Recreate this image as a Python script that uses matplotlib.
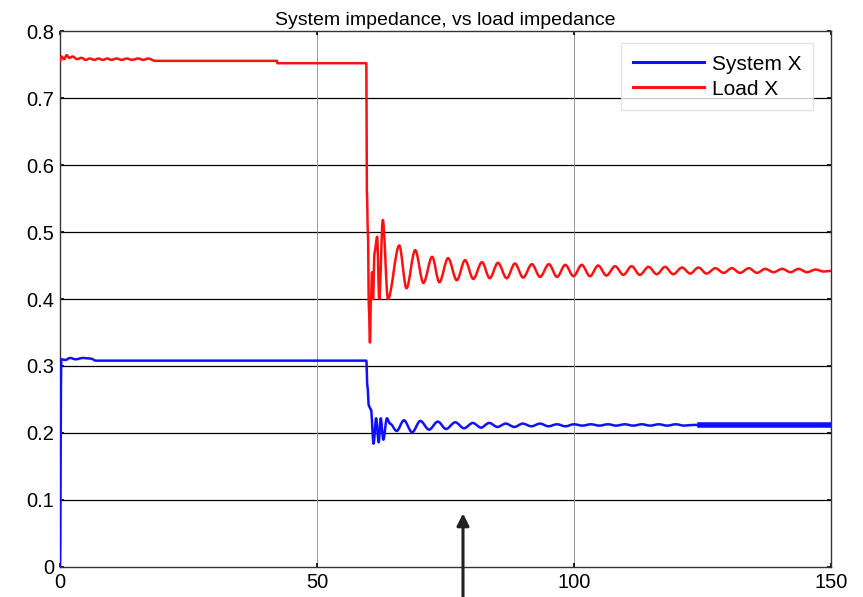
import matplotlib
matplotlib.use('Agg')
import matplotlib.pyplot as plt
from matplotlib.path import Path
from matplotlib.patches import PathPatch

plt.rcParams['font.family'] = ['Liberation Sans', 'DejaVu Sans']

# Load X (red) (peaks / troughs of the ringing)
load_x = [0, 0.3, 0.8, 1.3, 1.8, 2.5, 3.3, 4.2, 5.0, 5.8, 6.7, 7.5, 8.3, 9.2, 10.0, 11.0,
          12.0, 13.0, 14.0, 15.2, 16.2, 17.2, 18.5, 42.2, 42.3, 59.6,
          59.7, 59.9, 60.1, 60.3, 60.5, 60.7, 60.9, 61.2, 61.7, 62.1, 62.8, 63.8,
          66.0, 67.4, 69.1, 70.7, 72.4, 73.8, 75.5, 77.2, 78.8, 80.4, 82.1, 83.6,
          85.2, 86.9, 88.5, 90.1, 91.8, 93.4, 95.1, 96.7, 98.3, 99.9, 101.5, 103.1,
          104.7, 106.3, 108.0, 109.6, 111.2, 112.8, 114.5, 116.1, 117.7, 119.3,
          121.0, 122.6, 124.2, 125.8, 127.5, 129.1, 130.7, 132.3, 134.0, 135.6,
          137.2, 138.8, 140.5, 142.1, 143.7, 145.3, 147.0, 148.6, 150.0]
load_y = [0.755, 0.762, 0.758, 0.764, 0.760, 0.762, 0.758, 0.760, 0.757, 0.759, 0.757, 0.759,
          0.757, 0.759, 0.757, 0.759, 0.757, 0.759, 0.757, 0.759, 0.757, 0.759, 0.7555,
          0.7555, 0.752, 0.752,
          0.56, 0.50, 0.385, 0.335, 0.40, 0.44, 0.40, 0.47, 0.493, 0.40, 0.518, 0.40,
          0.480, 0.416, 0.473, 0.424, 0.463, 0.425, 0.461, 0.428, 0.458, 0.430, 0.455, 0.431,
          0.454, 0.431, 0.453, 0.432, 0.452, 0.433, 0.452, 0.433, 0.451, 0.434, 0.451, 0.434,
          0.450, 0.435, 0.449, 0.436, 0.449, 0.436, 0.448, 0.437, 0.448, 0.437,
          0.447, 0.438, 0.447, 0.438, 0.446, 0.439, 0.446, 0.439, 0.446, 0.439,
          0.445, 0.440, 0.445, 0.440, 0.445, 0.440, 0.444, 0.441, 0.442]

# System X (blue)
sys_x = [0, 0.25, 1.0, 2.0, 3.0, 4.5, 6.0, 7.0, 59.6, 59.8, 60.1, 60.5, 61.0, 61.5, 62.0,
         62.4, 62.9, 63.6, 64.2, 65.5, 66.9, 68.5, 70.1, 71.8, 73.5, 75.1, 76.9, 78.6,
         80.3, 81.9, 83.5, 85.1, 86.7, 88.4, 90.0, 91.7, 93.4, 95.0, 96.7, 98.3, 100.0,
         101.6, 103.3, 104.9, 106.6, 108.2, 109.9, 111.5, 113.2, 114.8, 116.5, 118.1,
         119.8, 121.4, 123.1, 124.5, 150.0]
sys_y = [0.0, 0.31, 0.309, 0.312, 0.31, 0.312, 0.311, 0.308, 0.308, 0.27, 0.24, 0.235,
         0.184, 0.222, 0.186, 0.222, 0.19, 0.222, 0.214, 0.203, 0.219, 0.201, 0.218, 0.205,
         0.217, 0.206, 0.216, 0.207, 0.215, 0.208, 0.215, 0.209, 0.214, 0.209, 0.214, 0.210,
         0.214, 0.210, 0.213, 0.210, 0.213, 0.211, 0.213, 0.211, 0.213, 0.211, 0.213, 0.211,
         0.213, 0.211, 0.213, 0.211, 0.213, 0.211, 0.212, 0.212, 0.212]
band_start = 124.5   # after this the blue trace is a thick, fast ripple


# smooth drawing of a trace: cubic segments with flat tangents at each read point
def smooth_trace(ax, xs, ys, **kw):
    verts = [(xs[0], ys[0])]
    codes = [Path.MOVETO]
    for i in range(1, len(xs)):
        x0, y0, x1, y1 = xs[i - 1], ys[i - 1], xs[i], ys[i]
        dx = (x1 - x0) / 3.0
        verts += [(x0 + dx, y0), (x1 - dx, y1), (x1, y1)]
        codes += [Path.CURVE4] * 3
    patch = PathPatch(Path(verts, codes), fill=False, capstyle='round',
                      joinstyle='round', **kw)
    ax.add_patch(patch)


fig = plt.figure(figsize=(8.63, 5.97), dpi=100)
ax = fig.add_axes([0.0695, 0.0503, 0.8935, 0.8977])

# grid: black horizontals, thin gray verticals
for yv in [0.1, 0.2, 0.3, 0.4, 0.5, 0.6, 0.7]:
    ax.axhline(yv, color='black', lw=0.9, zorder=1)
for xv in [50, 100]:
    ax.axvline(xv, color='#888888', lw=0.6, zorder=1)

blue = '#1010ff'
red = '#ff1010'
smooth_trace(ax, sys_x, sys_y, edgecolor=blue, lw=1.8, zorder=3)
tail = [(x, y) for x, y in zip(sys_x, sys_y) if x >= band_start]
ax.plot([t[0] for t in tail], [t[1] for t in tail], color=blue, lw=4.0, zorder=3)
smooth_trace(ax, load_x, load_y, edgecolor=red, lw=1.8, zorder=3)

# legend handles
ax.plot([], [], color=blue, lw=2.2, label='System X')
ax.plot([], [], color=red, lw=2.2, label='Load X')

ax.set_xlim(0, 150)
ax.set_ylim(0, 0.8)
ax.set_xticks([0, 50, 100, 150])
ax.set_yticks([0, 0.1, 0.2, 0.3, 0.4, 0.5, 0.6, 0.7, 0.8])
ax.set_yticklabels(['0', '0.1', '0.2', '0.3', '0.4', '0.5', '0.6', '0.7', '0.8'])
ax.tick_params(direction='in', length=3, width=1.2, labelsize=14.5, pad=4,
               top=True, right=True)
for s in ax.spines.values():
    s.set_color('#333333')
    s.set_linewidth(1.0)

ax.set_title('System impedance, vs load impedance', fontsize=14, pad=4)

leg = ax.legend(loc='upper right', fontsize=15, frameon=True, fancybox=False,
                handlelength=3.4, handletextpad=0.4, borderpad=0.55,
                labelspacing=0.3, bbox_to_anchor=(0.99, 0.997))
leg.get_frame().set_edgecolor('#dddddd')
leg.get_frame().set_linewidth(1.0)

# arrow coming up from below the axis
ax.annotate('', xy=(78.4, 0.08), xytext=(78.4, -0.06),
            arrowprops=dict(arrowstyle='-|>', color='#222222', lw=2.2,
                            mutation_scale=18, shrinkA=0, shrinkB=0),
            annotation_clip=False, zorder=5)

fig.savefig('out.png', dpi=100)
